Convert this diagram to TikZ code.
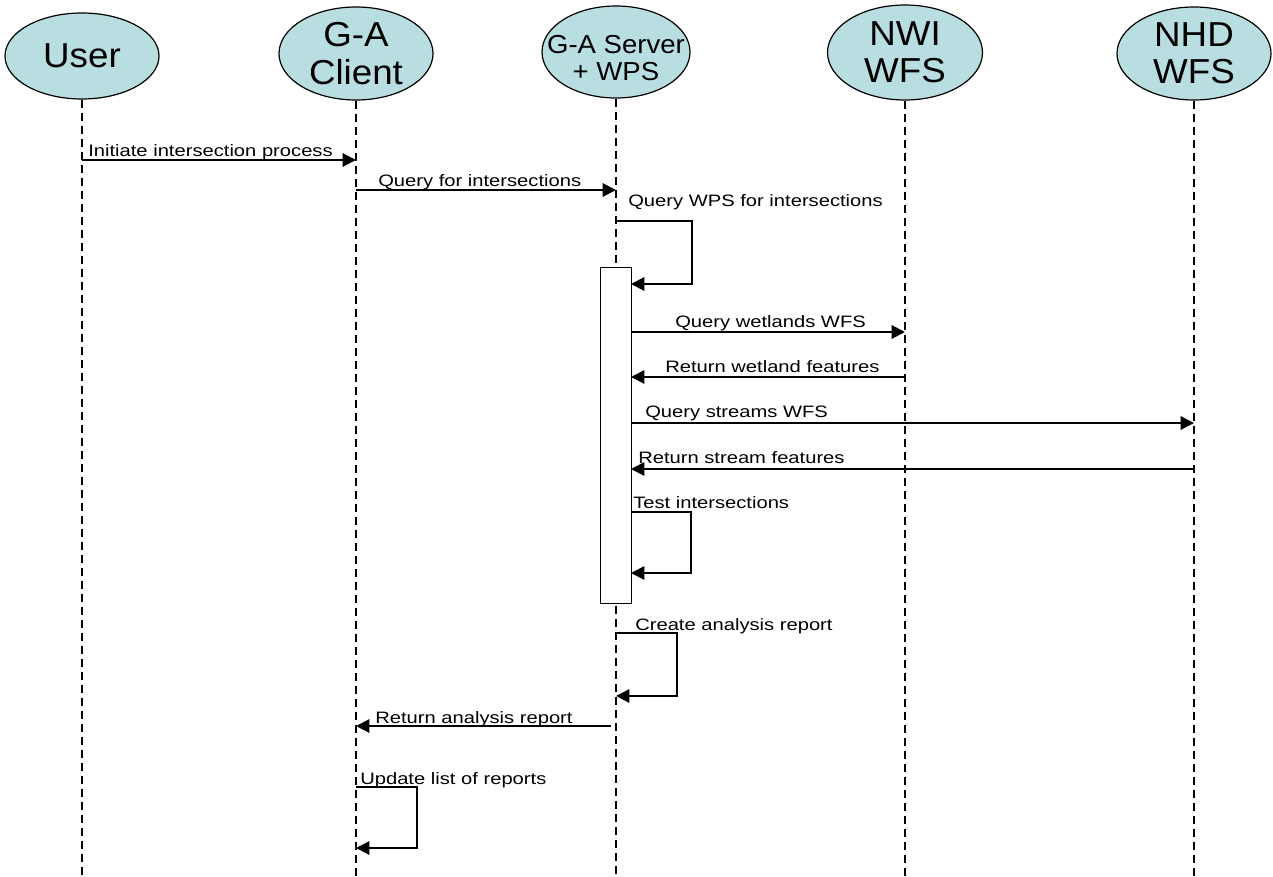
\documentclass[tikz,border=0pt]{standalone}
\usepackage{fontspec}
\setmainfont{Liberation Sans}
\newfontfamily\msgfont[FakeStretch=1.22]{Liberation Sans}
\newfontfamily\actorfont[FakeStretch=1.06]{Liberation Sans}
\usetikzlibrary{shapes.geometric,arrows.meta}
\definecolor{actorfill}{RGB}{185,222,225}
\begin{document}
\begin{tikzpicture}[x=0.75pt,y=-0.75pt,
  actor/.style={ellipse,draw=black,line width=0.9pt,fill=actorfill,inner sep=0pt,align=center,
    font=\actorfont\fontsize{26}{28}\selectfont},
  smalltext/.style={align=center,inner sep=0pt,font=\actorfont\fontsize{19.5}{20.25}\selectfont},
  lifeline/.style={draw=black,line width=0.9pt,dash pattern=on 6pt off 3.75pt},
  msg/.style={draw=black,line width=1.5pt,-{Triangle[length=10pt,width=10pt]}},
  lbl/.style={anchor=base west,inner sep=0pt,font=\msgfont\fontsize{12.4}{14}\selectfont},
  actbox/.style={draw=black,fill=white,line width=1.1pt,inner sep=0pt,anchor=north west,
    minimum width=23.25pt,minimum height=252pt}]
\useasboundingbox (0,0) rectangle (1273,877);
\coordinate (bottom) at (0,877);

% actors
\node (user)   [actor,minimum width=115.5pt,minimum height=64.5pt] at (82,56) {User};
\node (client) [actor,minimum width=115.5pt,minimum height=69.75pt] at (356,53.5) {G-A\\Client};
\node (server) [actor,minimum width=111pt,minimum height=69pt] at (616,52) {};
\node (servertext) [smalltext] at (616,58) {G-A Server\\+ WPS};
\node (nwi)    [actor,minimum width=116.25pt,minimum height=71.25pt] at (905,52.5) {NWI\\WFS};
\node (nhd)    [actor,minimum width=115.5pt,minimum height=69.75pt] at (1194,53.5) {NHD\\WFS};

% lifelines
\foreach \a in {user,client,server,nwi,nhd}
  \draw[lifeline] (\a.south) -- (\a.south |- bottom);

% activation box
\node (act) [actbox] at (600,267) {};

% message coordinates
\coordinate (m1a) at (82,160);   \coordinate (m1b) at (356,160);
\coordinate (m2a) at (356,190);  \coordinate (m2b) at (616,190);
\coordinate (m3a) at (616,221);  \coordinate (m3b) at (631,284);
\coordinate (m4a) at (631,332);  \coordinate (m4b) at (905,332);
\coordinate (m5a) at (905,377);  \coordinate (m5b) at (631,377);
\coordinate (m6a) at (631,423);  \coordinate (m6b) at (1194,423);
\coordinate (m7a) at (1194,469); \coordinate (m7b) at (631,469);
\coordinate (m8a) at (631,512);  \coordinate (m8b) at (631,573);
\coordinate (m9a) at (616,633);  \coordinate (m9b) at (616,696);
\coordinate (m10a) at (611,726); \coordinate (m10b) at (356,726);
\coordinate (m11a) at (356,787); \coordinate (m11b) at (356,848);

% messages
\draw[msg] (m1a) -- (m1b);
\draw[msg] (m2a) -- (m2b);
\draw[msg] (m3a) -- ++(76,0) |- (m3b);
\draw[msg] (m4a) -- (m4b);
\draw[msg] (m5a) -- (m5b);
\draw[msg] (m6a) -- (m6b);
\draw[msg] (m7a) -- (m7b);
\draw[msg] (m8a) -- ++(60,0) |- (m8b);
\draw[msg] (m9a) -- ++(61,0) |- (m9b);
\draw[msg] (m10a) -- (m10b);
\draw[msg] (m11a) -- ++(61,0) |- (m11b);

% labels
\node (l1)  [lbl] at (88,157)  {Initiate intersection process};
\node (l2)  [lbl] at (378,187) {Query for intersections};
\node (l3)  [lbl] at (628,207) {Query WPS for intersections};
\node (l4)  [lbl] at (675,327) {Query wetlands WFS};
\node (l5)  [lbl] at (665,372) {Return wetland features};
\node (l6)  [lbl] at (645,417) {Query streams WFS};
\node (l7)  [lbl] at (638,463) {Return stream features};
\node (l8)  [lbl] at (633,508) {Test intersections};
\node (l9)  [lbl] at (635,630) {Create analysis report};
\node (l10) [lbl] at (375,723) {Return analysis report};
\node (l11) [lbl] at (360,784) {Update list of reports};
\end{tikzpicture}
\end{document}
